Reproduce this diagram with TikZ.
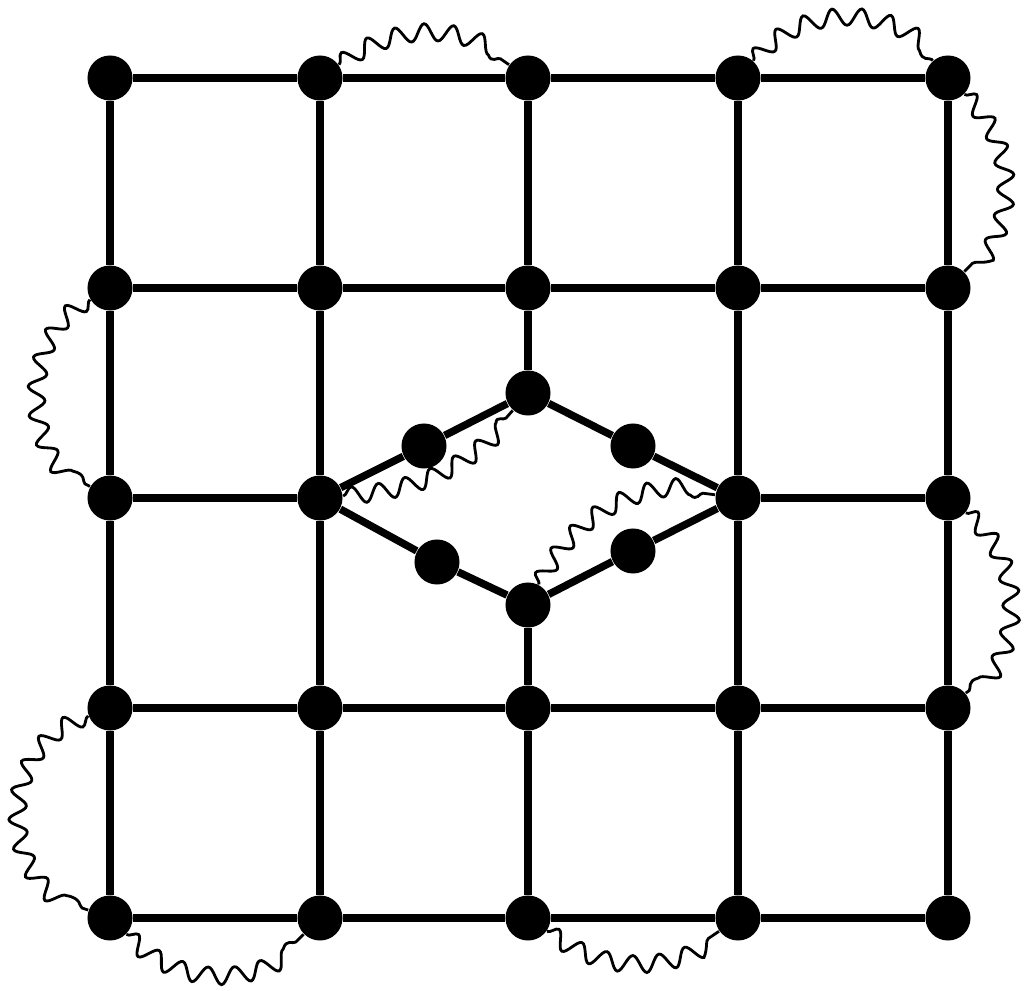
\documentclass[tikz,border=0pt]{standalone}
\usetikzlibrary{decorations.pathmorphing}
\begin{document}
\begin{tikzpicture}[x=0.01cm,y=-0.01cm,
  dot/.style={circle,fill=black,draw=none,inner sep=0pt,minimum size=0.45cm},
  gedge/.style={line width=0.075cm},
  wave/.style={line width=0.8pt, decorate,
    decoration={snake,amplitude=0.085cm,segment length=0.28cm}}]
\useasboundingbox (0,0) rectangle (1026,991);
% grid nodes
\foreach \c/\x in {0/110,1/320,2/528,3/738,4/948}{
  \foreach \r/\y in {0/78,1/288,2/498,3/708,4/918}{
    \ifnum\c=2 \ifnum\r=2 \else
      \node[dot] (g\c\r) at (\x,\y) {};
    \fi\else
      \node[dot] (g\c\r) at (\x,\y) {};
    \fi
  }
}
% diamond nodes
\node[dot] (T)  at (528,393) {};
\node[dot] (B)  at (528,605) {};
\node[dot] (ul) at (424,446) {};
\node[dot] (ur) at (633,446) {};
\node[dot] (ll) at (437,562) {};
\node[dot] (lr) at (633,551) {};
% horizontal grid edges
\foreach \r in {0,1,3,4}{
  \draw[gedge] (g0\r) -- (g1\r) -- (g2\r) -- (g3\r) -- (g4\r);
}
\draw[gedge] (g02) -- (g12);
\draw[gedge] (g32) -- (g42);
% vertical grid edges
\foreach \c in {0,1,3,4}{
  \draw[gedge] (g\c0) -- (g\c1) -- (g\c2) -- (g\c3) -- (g\c4);
}
\draw[gedge] (g20) -- (g21) -- (T);
\draw[gedge] (B) -- (g23) -- (g24);
% diamond edges
\draw[gedge] (g12) -- (ul) -- (T) -- (ur) -- (g32) -- (lr) -- (B) -- (ll) -- (g12);
% wavy lines
\draw[wave] (g10) to[bend left=35] (g20);
\draw[wave] (g30) to[bend left=48] (g40);
\draw[wave] (g40) to[bend left=45] (g41);
\draw[wave] (g01) to[bend right=60] (g02);
\draw[wave] (g42) to[bend left=50] (g43);
\draw[wave] (g03) to[bend right=70,looseness=1.2] (g04);
\draw[wave] (g04) to[bend right=45] (g14);
\draw[wave] (g24) to[bend right=35] (g34);
\draw[wave] (g12) to[bend right=22] (T);
\draw[wave] (B) to[bend left=35] (g32);
\end{tikzpicture}
\end{document}
